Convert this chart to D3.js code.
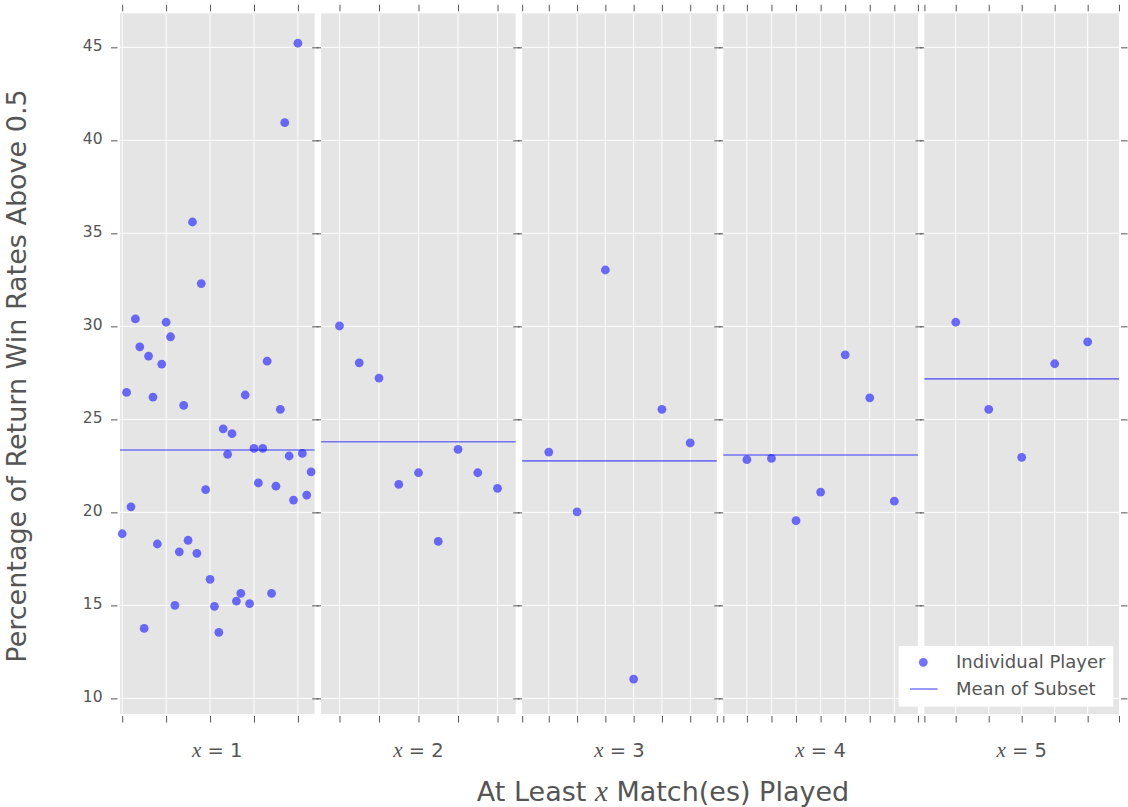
<!DOCTYPE html>
<html>
<head>
<meta charset="utf-8">
<script src="https://cdn.jsdelivr.net/npm/d3@7"></script>
<style>
  html, body { margin: 0; padding: 0; background: #fff; }
  svg text { font-family: "DejaVu Sans", sans-serif; fill: #555; }
  .axis path { display: none; }
  .axis line { stroke: #555; stroke-width: 1; }
</style>
</head>
<body>
<svg id="chart" width="1128" height="807"></svg>
<script>
// Percentage of return win rates above 0.5, one panel per minimum-match subset
const subsetLabels = ["1", "2", "3", "4", "5"];

const subset1 = [18.85, 26.45, 20.3, 30.4, 28.9, 13.76, 28.4, 26.2, 18.3, 27.97,
                 30.22, 29.44, 15.0, 17.88, 25.75, 18.5, 35.61, 17.8, 32.3, 21.22,
                 16.4, 14.95, 13.55, 24.49, 23.12, 24.23, 15.23, 15.64, 26.31, 15.09,
                 23.44, 21.58, 23.44, 28.13, 15.64, 21.41, 25.54, 40.95, 23.03, 20.66,
                 45.22, 23.17, 20.93, 22.18];
const subset2 = [30.02, 28.04, 27.22, 21.5, 22.13, 18.44, 23.39, 22.13, 21.29];
const subset3 = [23.24, 20.03, 33.03, 11.04, 25.54, 23.73];
const subset4 = [22.83, 22.9, 19.55, 21.09, 28.47, 26.16, 20.6];
const subset5 = [30.22, 25.54, 22.96, 27.99, 29.16];

const subsets = [subset1, subset2, subset3, subset4, subset5];

// player index range shown in each panel, and the index ticks
const xDomains = [[-0.5, 43.8], [-0.93, 8.92], [-0.94, 5.94], [-0.96, 6.96], [-0.95, 4.95]];
const xTicks = [[0, 10, 20, 30, 40], [0, 2, 4, 6, 8], [-1, 0, 1, 2, 3, 4, 5, 6],
                [-1, 0, 1, 2, 3, 4, 5, 6, 7], [-1, 0, 1, 2, 3, 4, 5]];
const yTicks = [10, 15, 20, 25, 30, 35, 40, 45];
const yDomain = [9.16, 46.83];

const legendLabels = ["Individual Player", "Mean of Subset"];

const svg = d3.select("#chart");

const panelTop = 13.3, panelBottom = 714;
const panelLeft = 120, panelWidth = 194.6, panelGap = 6.5;
const bg = "#E5E5E5";
const markColor = "rgba(0,0,255,0.55)";

const y = d3.scaleLinear().domain(yDomain).range([panelBottom, panelTop]);

subsets.forEach((vals, p) => {
  const x0 = panelLeft + p * (panelWidth + panelGap);
  const x = d3.scaleLinear().domain(xDomains[p]).range([x0, x0 + panelWidth]);
  const g = svg.append("g");

  g.append("rect")
    .attr("x", x0).attr("y", panelTop)
    .attr("width", panelWidth).attr("height", panelBottom - panelTop)
    .attr("fill", bg);

  // grid
  const inner = xTicks[p].filter(t => t >= xDomains[p][0] && t <= xDomains[p][1]);
  g.selectAll(".vgrid").data(inner).join("line")
    .attr("x1", d => x(d)).attr("x2", d => x(d))
    .attr("y1", panelTop).attr("y2", panelBottom)
    .attr("stroke", "#fff").attr("stroke-width", 1);
  g.selectAll(".hgrid").data(yTicks).join("line")
    .attr("x1", x0).attr("x2", x0 + panelWidth)
    .attr("y1", d => y(d)).attr("y2", d => y(d))
    .attr("stroke", "#fff").attr("stroke-width", 1);

  // tick marks on all four sides
  const xt = d3.scaleLinear().domain(xDomains[p]).range([x0, x0 + panelWidth]).clamp(true);
  const tickVals = xTicks[p];
  g.append("g").attr("class", "axis")
    .attr("transform", `translate(0,${panelBottom + 2})`)
    .call(d3.axisBottom(xt).tickValues(tickVals).tickFormat("").tickSize(6.5).tickSizeOuter(0));
  g.append("g").attr("class", "axis")
    .attr("transform", `translate(0,${panelTop - 2})`)
    .call(d3.axisTop(xt).tickValues(tickVals).tickFormat("").tickSize(6.5).tickSizeOuter(0));
  g.append("g").attr("class", "axis")
    .attr("transform", `translate(${x0 - 2.5},0)`)
    .call(d3.axisLeft(y).tickValues(yTicks).tickFormat(p === 0 ? d3.format("d") : "")
      .tickSize(6.5).tickPadding(8.5).tickSizeOuter(0))
    .call(a => a.selectAll("text").attr("font-size", 15.5).attr("fill", "#555")
      .attr("font-family", "DejaVu Sans").attr("dy", "0.2em"));
  g.append("g").attr("class", "axis")
    .attr("transform", `translate(${x0 + panelWidth + 2},0)`)
    .call(d3.axisRight(y).tickValues(yTicks).tickFormat("").tickSize(6.5).tickSizeOuter(0));

  // mean of subset
  const m = d3.mean(vals);
  g.append("line")
    .attr("x1", x0).attr("x2", x0 + panelWidth)
    .attr("y1", y(m)).attr("y2", y(m))
    .attr("stroke", "rgba(0,0,255,0.5)").attr("stroke-width", 1.6);

  // individual players
  g.selectAll(".pt").data(vals).join("circle")
    .attr("cx", (d, i) => x(i)).attr("cy", d => y(d))
    .attr("r", 4.4).attr("fill", markColor);

  // subset label
  const lbl = g.append("text")
    .attr("x", x0 + panelWidth / 2).attr("y", 757)
    .attr("text-anchor", "middle").attr("font-size", 19.5);
  lbl.append("tspan").attr("font-family", "Liberation Serif").attr("font-style", "italic")
    .attr("font-size", 21).text("x");
  lbl.append("tspan").text(" = " + subsetLabels[p]);
});

// axis titles
svg.append("text")
  .attr("transform", "translate(26,376) rotate(-90)")
  .attr("text-anchor", "middle").attr("font-size", 27)
  .text("Percentage of Return Win Rates Above 0.5");

const xt = svg.append("text")
  .attr("x", 663).attr("y", 801)
  .attr("text-anchor", "middle").attr("font-size", 27);
xt.append("tspan").text("At Least ");
xt.append("tspan").attr("font-family", "Liberation Serif").attr("font-style", "italic")
  .attr("font-size", 29).text("x");
xt.append("tspan").text(" Match(es) Played");

// legend
const lg = svg.append("g");
lg.append("rect").attr("x", 898.7).attr("y", 646).attr("width", 214.6).attr("height", 60.7)
  .attr("fill", "#fff");
lg.append("circle").attr("cx", 923.3).attr("cy", 662.3).attr("r", 4.4).attr("fill", markColor);
lg.append("line").attr("x1", 910).attr("x2", 937.7).attr("y1", 689).attr("y2", 689)
  .attr("stroke", "rgba(0,0,255,0.5)").attr("stroke-width", 1.6);
lg.selectAll(".lt").data(legendLabels).join("text")
  .attr("x", 956).attr("y", (d, i) => 668 + i * 27)
  .attr("font-size", 18).text(d => d);
</script>
</body>
</html>
